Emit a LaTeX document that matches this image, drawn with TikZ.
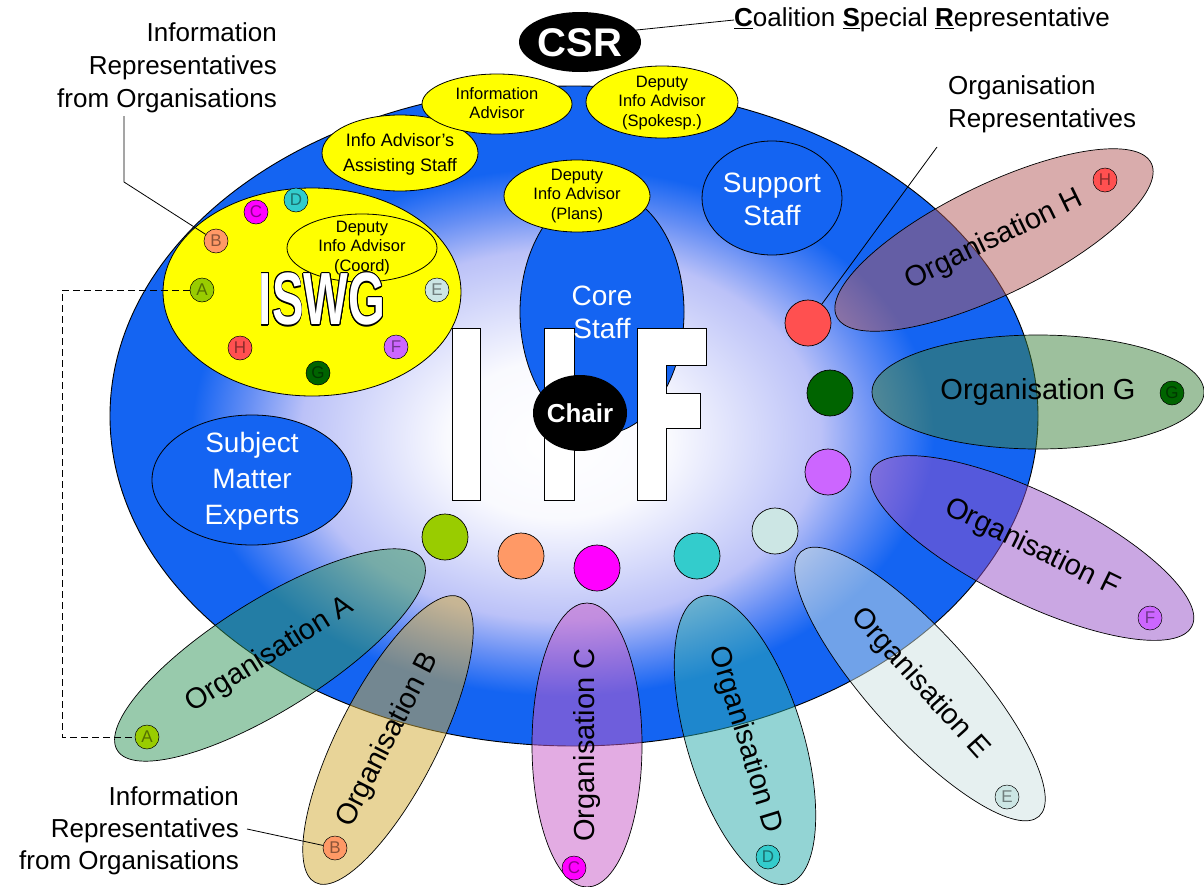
\documentclass[tikz,border=0pt]{standalone}
\usepackage{fontspec}
\setmainfont{Liberation Sans}
\usepackage[copies]{contour}
\contourlength{1.2pt}
\usetikzlibrary{shapes.geometric}
\definecolor{iifblue}{RGB}{20,100,242}
\definecolor{ylw}{RGB}{255,255,0}
\definecolor{cA}{RGB}{153,204,0}
\definecolor{cB}{RGB}{255,153,102}
\definecolor{cC}{RGB}{255,0,255}
\definecolor{cD}{RGB}{51,204,204}
\definecolor{cE}{RGB}{204,230,228}
\definecolor{cF}{RGB}{204,102,255}
\definecolor{cG}{RGB}{0,100,0}
\definecolor{cH}{RGB}{255,80,80}
\definecolor{oA}{RGB}{50,150,90}
\definecolor{oB}{RGB}{210,170,50}
\definecolor{oC}{RGB}{200,90,200}
\definecolor{oD}{RGB}{40,170,170}
\definecolor{oE}{RGB}{205,225,225}
\definecolor{oF}{RGB}{150,80,200}
\definecolor{oG}{RGB}{60,130,60}
\definecolor{oH}{RGB}{180,90,90}
\definecolor{lav}{RGB}{170,178,246}
\pgfdeclareradialshading{iifshade}{\pgfpoint{-1bp}{-2bp}}{color(0bp)=(white); color(6bp)=(white!93!lav); color(14bp)=(lav!80!white); color(17bp)=(iifblue!45!lav); color(20bp)=(iifblue); color(50bp)=(iifblue)}
\tikzset{
  bigell/.style={ellipse, draw=black, line width=0.8, inner sep=0},
  yell/.style={bigell, fill=ylw},
  blueell/.style={bigell, fill=iifblue},
  wtxt/.style={text=white, align=center, font=\fontsize{28}{33}\selectfont, inner sep=0},
  ytxt/.style={align=center, font=\fontsize{16.5}{19.5}\selectfont, inner sep=0},
  lbl/.style={align=right, font=\fontsize{26}{33}\selectfont, inner sep=0},
  org/.style={ellipse, draw=black, line width=0.7, fill opacity=0.5, text opacity=1, inner sep=0, font=\fontsize{29}{29}\selectfont},
  rep/.style={circle, draw=black, line width=0.7, minimum size=46, inner sep=0, fill=#1},
  lc/.style={circle, draw=black, line width=0.5, minimum size=24, inner sep=0, fill=#1, text=#1!55!black, font=\fontsize{17}{17}\selectfont},
  ltr/.style={fill=white, draw=black, line width=1},
  lead/.style={draw=black, line width=0.8},
}
\begin{document}
\begin{tikzpicture}[x=1pt, y=-1pt]
\useasboundingbox (0,0) rectangle (1204,886);
% main IIF ellipse
\node[ellipse, draw=black, line width=0.9, shade, shading=iifshade, minimum width=928, minimum height=660, inner sep=0] (iif) at (574,416) {};
% CSR
\node[ellipse, fill=black, minimum width=122, minimum height=60, inner sep=0] (csr) at (580,42) {};
\node[text=white, font=\bfseries\fontsize{40}{40}\selectfont, inner sep=0] (csrt) at (580,43) {CSR};
\node[anchor=west, inner sep=0, font=\fontsize{26}{30}\selectfont] (csrlab) at (734,20) {\underline{\textbf{C}}oalition \underline{\textbf{S}}pecial \underline{\textbf{R}}epresentative};
\draw[lead] (csr.12) -- (csrlab.west);
% blue sub-ellipses
\node[blueell, minimum width=140, minimum height=114] (sup) at (772,198) {};
\node[wtxt] (supt) at (772,199) {Support\\Staff};
\node[blueell, minimum width=200, minimum height=130] (sme) at (252,480) {};
\node[wtxt, font=\fontsize{28}{36}\selectfont] (smet) at (252,481) {Subject\\Matter\\Experts};
\node[blueell, minimum width=164, minimum height=244] (core) at (602,312) {};
% ISWG
\node[yell, minimum width=298, minimum height=208] (iswg) at (312,292) {};
\node[yell, minimum width=156, minimum height=76] (ias) at (400,153) {};
\node[ytxt, font=\fontsize{18}{25}\selectfont] (iast) at (400,154) {Info Advisor's\\Assisting Staff};
\node[yell, minimum width=150, minimum height=60] (ia) at (497,104) {};
\node[ytxt] (iat) at (497,103) {Information\\Advisor};
\node[yell, minimum width=152, minimum height=72] (dsp) at (662,102) {};
\node[ytxt] (dspt) at (662,103) {Deputy\\Info Advisor\\(Spokesp.)};
\node[yell, minimum width=146, minimum height=72] (dpl) at (577,196) {};
\node[ytxt] (dplt) at (577,196) {Deputy\\Info Advisor\\(Plans)};
\node[yell, minimum width=150, minimum height=68] (dco) at (362,248) {};
\node[ytxt] (dcot) at (362,248) {Deputy\\Info Advisor\\(Coord)};
\node[text=white, font=\bfseries\fontsize{74}{74}\selectfont, inner sep=0] (iswgt) at (322,300) {\scalebox{0.64}[1]{\contour{black}{ISWG}}};
\node[lc=cA] (isA) at (202,290) {A};
\node[lc=cB] (isB) at (216,241) {B};
\node[lc=cC] (isC) at (256,212) {C};
\node[lc=cD] (isD) at (296,200) {D};
\node[lc=cE] (isE) at (437,290) {E};
\node[lc=cF] (isF) at (396,347) {F};
\node[lc=cG] (isG) at (318,373) {G};
\node[lc=cH] (isH) at (240,348) {H};
% IIF letters
\draw[ltr] (452,328) rectangle (480,500);
\draw[ltr] (544,328) rectangle (574,500);
\draw[ltr] (637,328) -- (706,328) -- (706,365) -- (666,365) -- (666,393) -- (700,393) -- (700,428) -- (666,428) -- (666,500) -- (637,500) -- cycle;
\node[wtxt] (coret) at (602,312) {Core\\Staff};
\node[ellipse, fill=black, minimum width=94, minimum height=76, inner sep=0] (chair) at (580,413) {};
\node[text=white, font=\bfseries\fontsize{26}{26}\selectfont, inner sep=0] (chairt) at (580,413) {Chair};
% representative circles
\node[rep=cA] (rA) at (445,537) {};
\node[rep=cB] (rB) at (521,556) {};
\node[rep=cC] (rC) at (597,568) {};
\node[rep=cD] (rD) at (697,556) {};
\node[rep=cE] (rE) at (775,531) {};
\node[rep=cF] (rF) at (828,472) {};
\node[rep=cG] (rG) at (830,393) {};
\node[rep=cH] (rH) at (808,323) {};
% organisations
\node[org, fill=oA, rotate=32, minimum width=360, minimum height=110] (orgA) at (270,655) {Organisation A};
\node[org, fill=oB, rotate=63, minimum width=320, minimum height=100] (orgB) at (388,740) {Organisation B};
\node[org, fill=oC, rotate=90, minimum width=284, minimum height=110] (orgC) at (587,745) {Organisation C};
\node[org, fill=oD, rotate=-73, minimum width=300, minimum height=116] (orgD) at (745,740) {Organisation D};
\node[org, fill=oE, rotate=-48, minimum width=356, minimum height=104] (orgE) at (920,684) {Organisation E};
\node[org, fill=oF, rotate=-26, minimum width=356, minimum height=110] (orgF) at (1032,548) {Organisation F};
\node[org, fill=oG, minimum width=332, minimum height=114] (orgG) at (1038,392) {Organisation G};
\node[org, fill=oH, rotate=26, minimum width=350, minimum height=110] (orgH) at (994,240) {Organisation H};
\node[lc=cA] (oAc) at (147,737) {A};
\node[lc=cB] (oBc) at (335,848) {B};
\node[lc=cC] (oCc) at (574,868) {C};
\node[lc=cD] (oDc) at (768,857) {D};
\node[lc=cE] (oEc) at (1007,797) {E};
\node[lc=cF] (oFc) at (1150,618) {F};
\node[lc=cG] (oGc) at (1172,393) {G};
\node[lc=cH] (oHc) at (1105,180) {H};
% labels
\node[lbl, anchor=north east] (irtop) at (277,22) {Information\\Representatives\\from Organisations};
\node[lbl, anchor=north east, font=\fontsize{26}{32}\selectfont] (irbot) at (239,786) {Information\\Representatives\\from Organisations};
\node[lbl, align=left, anchor=north west] (orgrep) at (948,75) {Organisation\\Representatives};
% leaders
\coordinate (irtopfoot) at (124,116);
\draw[lead] (irtopfoot) -- ++(0,66) -- (isB);
\coordinate (irbotend) at (247,829);
\draw[lead] (irbotend) -- (oBc);
\coordinate (orgrepfoot) at (937,147);
\draw[lead] (orgrepfoot) -- (rH);
\coordinate (dashx) at (62,0);
\draw[line width=0.8, dash pattern=on 7pt off 4pt] (isA.west) -- (isA.west -| dashx) -- (oAc.west -| dashx) -- (oAc.west);
\end{tikzpicture}
\end{document}
